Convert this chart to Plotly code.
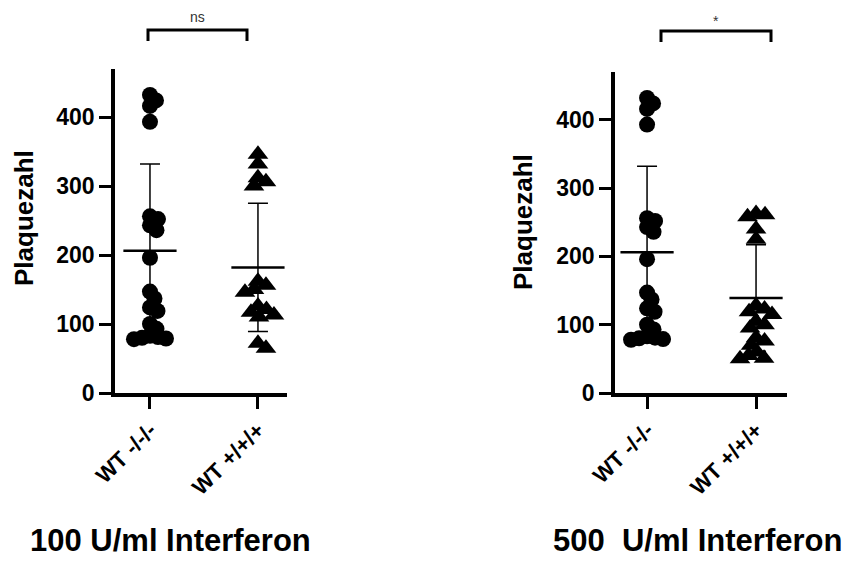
import plotly.graph_objects as go

# ---------------- data ----------------
categories = ["WT -/-/-", "WT +/+/+"]

# 100 U/ml Interferon
wt_minus_100 = [432, 424, 416, 393, 256, 252, 243, 236, 196, 147, 137, 124, 119,
                100, 93, 83, 81, 80, 79, 78]
wt_plus_100 = [346, 332, 312, 306, 300, 162, 156, 150, 146, 126, 121, 117, 113,
               110, 72, 65]
mean_100 = [206, 182]
sd_100 = [126, 93]

# 500 U/ml Interferon
wt_minus_500 = [432, 424, 416, 393, 256, 252, 243, 236, 196, 147, 137, 124, 119,
                100, 93, 83, 81, 80, 79, 78]
wt_plus_500 = [263, 261, 258, 240, 225, 128, 123, 119, 115, 105, 100, 95, 81, 76,
               70, 60, 55, 51, 50]
mean_500 = [206, 139]
sd_500 = [126, 78]

y_ticks = [0, 100, 200, 300, 400]
sig_labels = ["ns", "*"]
panel_titles = ["100 U/ml Interferon", "500  U/ml Interferon"]
y_title = "Plaquezahl"

# ---------------- layout constants ----------------
OFF = 8                      # page margin the browser adds around the figure
W, H = 854 - OFF, 561 - OFF
FONT = "Liberation Sans"
Y_MAX = 470
X_RANGE_L = [-0.324, 1.269]
X_RANGE_R = [-0.294, 1.284]


def px(x):
    return (x - OFF) / W


def py(y):
    return 1 - (y - OFF) / H


dom_x_l = [px(115), px(287)]
dom_x_r = [px(615), px(787)]
dom_y_l = [py(393), py(68.7)]
dom_y_r = [py(393), py(72)]


def swarm(vals, px_per_x, px_per_y, s=8.0):
    """Simple beeswarm: horizontal offsets (in x units) so points don't pile up."""
    n = len(vals)
    offs = [0.0] * n
    placed = []
    order = sorted(range(n), key=lambda i: -vals[i])
    for i in order:
        y = vals[i] * px_per_y
        for k in range(0, 400):
            c = ((k + 1) // 2) * (1 if k % 2 else -1) * 0.5
            if all((c - ox) ** 2 + (y - oy) ** 2 >= s * s for ox, oy in placed):
                break
        placed.append((c, y))
        offs[i] = c / px_per_x
    return offs


fig = go.Figure()

panels = [
    (wt_minus_100, wt_plus_100, mean_100, sd_100, "x", "y", dom_x_l, dom_y_l, X_RANGE_L),
    (wt_minus_500, wt_plus_500, mean_500, sd_500, "x2", "y2", dom_x_r, dom_y_r, X_RANGE_R),
]

for g1, g2, mn, sd, xa, ya, dx, dy, xr in panels:
    ppx = (dx[1] - dx[0]) * W / (xr[1] - xr[0])
    ppy = (dy[1] - dy[0]) * H / Y_MAX
    o1 = swarm(g1, ppx, ppy, 8)
    o2 = swarm(g2, ppx, ppy, 9)
    fig.add_trace(go.Scatter(
        x=[0 + o for o in o1], y=g1, mode="markers", xaxis=xa, yaxis=ya,
        marker=dict(symbol="circle", size=16, color="black", line=dict(width=0)),
        showlegend=False, hoverinfo="y"))
    fig.add_trace(go.Scatter(
        x=[1 + o for o in o2], y=g2, mode="markers", xaxis=xa, yaxis=ya,
        marker=dict(symbol="triangle-up", size=18, color="black",
                    line=dict(width=0)),
        showlegend=False, hoverinfo="y"))
    fig.add_trace(go.Scatter(
        x=[0, 1], y=mn, mode="markers", xaxis=xa, yaxis=ya,
        marker=dict(symbol="line-ew", size=38, color="black",
                    line=dict(width=2.5, color="black")),
        error_y=dict(type="data", array=sd, visible=True, thickness=1.5,
                     width=10, color="black"),
        showlegend=False, hoverinfo="y"))

axis_common = dict(showline=True, linewidth=3.5, linecolor="black",
                   ticks="outside", ticklen=12, tickwidth=3, tickcolor="black",
                   showgrid=False, zeroline=False, mirror=False, automargin=False,
                   tickfont=dict(family=FONT, size=23, color="black", weight="bold"))
xfont = dict(family=FONT, size=22, color="black", weight="bold")

fig.update_layout(
    template="none",
    width=W, height=H,
    margin=dict(l=0, r=0, t=0, b=0, pad=0),
    paper_bgcolor="white", plot_bgcolor="white",
    showlegend=False,
    xaxis=dict(domain=dom_x_l, range=X_RANGE_L, anchor="y",
               tickvals=[0, 1], ticktext=categories, tickangle=-45,
               **{**axis_common, "tickfont": xfont}),
    yaxis=dict(domain=dom_y_l, range=[0, Y_MAX], anchor="x",
               tickvals=y_ticks, **axis_common),
    xaxis2=dict(domain=dom_x_r, range=X_RANGE_R, anchor="y2",
                tickvals=[0, 1], ticktext=categories, tickangle=-45,
                **{**axis_common, "tickfont": xfont}),
    yaxis2=dict(domain=dom_y_r, range=[0, Y_MAX], anchor="x2",
                tickvals=y_ticks, **axis_common),
)

# y-axis titles
for xc, yc in [(24, 218), (523, 222)]:
    fig.add_annotation(x=px(xc), y=py(yc), xref="paper", yref="paper",
                       text=y_title, textangle=-90, showarrow=False,
                       font=dict(family=FONT, size=26, color="black", weight="bold"),
                       xanchor="center", yanchor="middle")

# panel titles
for (xc, yb), t in zip([(170, 560), (697, 560)], panel_titles):
    fig.add_annotation(x=px(xc), y=py(yb), xref="paper", yref="paper",
                       text=t, showarrow=False,
                       font=dict(family=FONT, size=31, color="black", weight="bold"),
                       xanchor="center", yanchor="bottom")

# significance brackets
brackets = [(148, 247, 30, 41), (661, 771, 31, 42)]
label_pos = [(197, 17), (716, 21)]
for (x0, x1, yt, yb), (lx, ly), lab in zip(brackets, label_pos, sig_labels):
    fig.add_shape(type="path", xref="paper", yref="paper",
                  path=f"M {px(x0)},{py(yb)} L {px(x0)},{py(yt)} "
                       f"L {px(x1)},{py(yt)} L {px(x1)},{py(yb)}",
                  line=dict(color="black", width=3))
    fig.add_annotation(x=px(lx), y=py(ly), xref="paper", yref="paper",
                       text=lab, showarrow=False,
                       font=dict(family=FONT, size=14, color="#333333"),
                       xanchor="center", yanchor="middle")

fig.write_html("out.html")
